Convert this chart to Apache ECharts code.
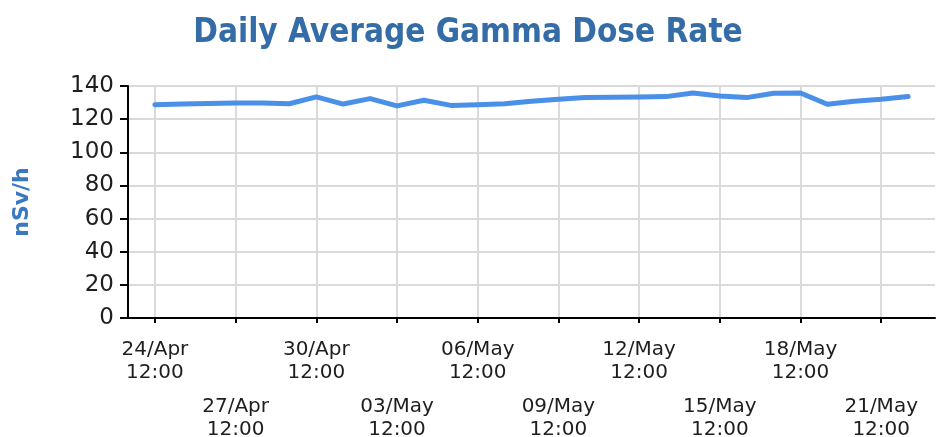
<!DOCTYPE html>
<html>
<head>
<meta charset="utf-8">
<script src="https://cdn.jsdelivr.net/npm/echarts@6/dist/echarts.min.js"></script>
<style>
html,body{margin:0;padding:0;background:#fff;}
#chart{width:936px;height:437px;}
</style>
</head>
<body>
<div id="chart"></div>
<script>
const titleText = 'Daily Average Gamma Dose Rate';
const yAxisName = 'nSv/h';
const edgeDays = ['23/Apr', '23/May'];
const days = ['24/Apr','25/Apr','26/Apr','27/Apr','28/Apr','29/Apr','30/Apr',
  '01/May','02/May','03/May','04/May','05/May','06/May','07/May','08/May','09/May',
  '10/May','11/May','12/May','13/May','14/May','15/May','16/May','17/May','18/May',
  '19/May','20/May','21/May','22/May'];
const values = [128.7,129.1,129.5,129.7,129.7,129.3,133.4,
  129.1,132.4,128.0,131.4,128.3,128.7,129.3,130.8,132.0,
  133.0,133.2,133.4,133.6,135.8,134.0,133.0,135.6,135.8,
  129.0,130.8,132.0,133.6];
const tickDays = ['24/Apr','27/Apr','30/Apr','03/May','06/May','09/May','12/May','15/May','18/May','21/May'];
const timeOfDay = '12:00';
const yTicks = [0,20,40,60,80,100,120,140];

const categories = [edgeDays[0]].concat(days, [edgeDays[1]]);
const seriesData = [null].concat(values, [null]);
const isTick = (i, v) => tickDays.indexOf(categories[i]) >= 0;

const chart = echarts.init(document.getElementById('chart'));
chart.setOption({
  animation: false,
  backgroundColor: '#ffffff',
  title: {
    text: titleText,
    left: 'center',
    top: 12,
    textStyle: {
      fontFamily: '"DejaVu Sans Condensed", "DejaVu Sans", sans-serif',
      fontWeight: 'bold',
      fontSize: 33,
      color: '#336ca6'
    }
  },
  grid: { left: 128, right: 1, top: 86, bottom: 119, containLabel: false, outerBoundsMode: 'none' },
  xAxis: {
    type: 'category',
    boundaryGap: false,
    data: categories,
    axisLine: { show: true, lineStyle: { color: '#000', width: 2 } },
    axisTick: { show: true, interval: isTick, length: 5, lineStyle: { color: '#000', width: 2 } },
    splitLine: { show: true, interval: isTick, lineStyle: { color: '#dadada', width: 2 } },
    axisLabel: {
      interval: isTick,
      margin: 20,
      formatter: function (value) {
        const k = tickDays.indexOf(value);
        const body = '{a|' + value + '}\n{a|' + timeOfDay + '}';
        return k % 2 === 1 ? '{g| }\n' + body : body;
      },
      rich: {
        a: { fontFamily: '"DejaVu Sans", Verdana, sans-serif', fontSize: 20, lineHeight: 23.5, color: '#1e1e1e', align: 'center' },
        g: { fontSize: 2, lineHeight: 57 }
      }
    }
  },
  yAxis: {
    type: 'value',
    min: yTicks[0],
    max: yTicks[yTicks.length - 1],
    interval: yTicks[1] - yTicks[0],
    name: yAxisName,
    nameLocation: 'middle',
    nameRotate: 90,
    nameGap: 95,
    nameTextStyle: {
      fontFamily: '"DejaVu Sans", Verdana, sans-serif',
      fontWeight: 'bold',
      fontSize: 22,
      color: '#3a78c0'
    },
    axisLine: { show: true, lineStyle: { color: '#000', width: 2 } },
    axisTick: { show: true, length: 8, lineStyle: { color: '#000', width: 2 } },
    splitLine: { show: true, lineStyle: { color: '#dadada', width: 2 } },
    axisLabel: {
      margin: 14,
      fontFamily: '"DejaVu Sans", Verdana, sans-serif',
      fontSize: 23,
      color: '#1e1e1e'
    }
  },
  series: [{
    type: 'line',
    data: seriesData,
    showSymbol: false,
    symbol: 'none',
    smooth: false,
    lineStyle: { color: '#4a8fe8', width: 5, cap: 'round', join: 'round' },
    itemStyle: { color: '#4a8fe8' }
  }]
});
</script>
</body>
</html>
